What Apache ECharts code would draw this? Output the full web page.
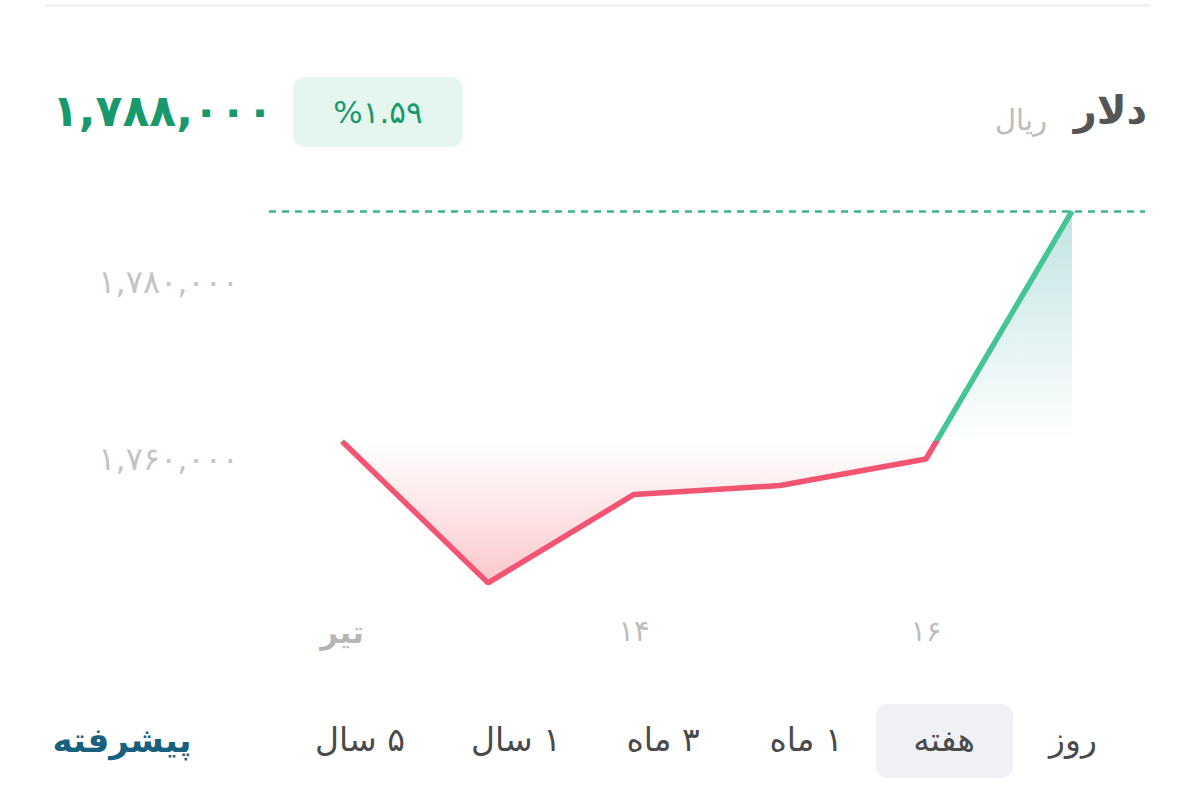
<!DOCTYPE html>
<html>
<head>
<meta charset="utf-8">
<script src="https://cdn.jsdelivr.net/npm/echarts@6/dist/echarts.min.js"></script>
<style>
  html, body { margin: 0; padding: 0; background: #ffffff; }
  #chart { width: 1200px; height: 808px; }
</style>
</head>
<body>
<div id="chart"></div>
<script>
// ---- data ----
const categories = ['تیر', '۱۳', '۱۴', '۱۵', '۱۶', '۱۷'];
const prices = [1762000, 1746000, 1756000, 1757000, 1760000, 1788000];
const yTicks = [1740000, 1760000, 1780000, 1800000];
const titleText = 'دلار';
const unitText = 'ریال';
const priceText = '۱,۷۸۸,۰۰۰';
const changeText = '%۱.۵۹';
const tabs = ['روز', 'هفته', '۱ ماه', '۳ ماه', '۱ سال', '۵ سال'];
const advancedText = 'پیشرفته';

// ---- helpers ----
const FA = '۰۱۲۳۴۵۶۷۸۹';
function toFa(n) {
  return Math.round(n).toLocaleString('en-US').replace(/[0-9]/g, d => FA[+d]);
}
const RLM = '\u200F';
const FONT = '"DejaVu Sans", "Noto Sans", sans-serif';

const baseline = prices[0];
const pMax = Math.max(...prices), pMin = Math.min(...prices);
const frac = (pMax - baseline) / (pMax - pMin);

const GREEN = '#45c495';
const RED = '#f25472';

const tabCenters = [1073, 944, 806, 663, 516, 360];

const graphics = [
  { type: 'rect', shape: { x: 45, y: 4, width: 1105, height: 3 }, style: { fill: '#f2f2f2' }, silent: true },
  { type: 'text', style: { x: 52, y: 110, text: priceText, fill: '#18996c', font: 'bold 44px ' + FONT, textAlign: 'left', textVerticalAlign: 'middle' } },
  { type: 'rect', shape: { x: 293, y: 77, width: 170, height: 70, r: 12 }, style: { fill: '#e5f6ef' } },
  { type: 'text', style: { x: 378, y: 112, text: changeText, fill: '#18996c', font: '31px ' + FONT, textAlign: 'center', textVerticalAlign: 'middle' } },
  { type: 'text', style: { x: 1147, y: 110, text: titleText, fill: '#555555', font: 'bold 40px ' + FONT, textAlign: 'right', textVerticalAlign: 'middle' } },
  { type: 'text', style: { x: 1047, y: 120, text: unitText, fill: '#bdbdbd', font: '29px ' + FONT, textAlign: 'right', textVerticalAlign: 'middle' } },
  { type: 'rect', shape: { x: 876, y: 704, width: 137, height: 74, r: 12 }, style: { fill: '#f0f1f5' } },
  { type: 'text', style: { x: 122, y: 740, text: advancedText, fill: '#17607e', font: 'bold 34px ' + FONT, textAlign: 'center', textVerticalAlign: 'middle' } }
];
tabs.forEach((t, i) => {
  graphics.push({ type: 'text', style: { x: tabCenters[i], y: 739, text: RLM + t, fill: '#4a4a4a', font: '33px ' + FONT, textAlign: 'center', textVerticalAlign: 'middle' } });
});

const chart = echarts.init(document.getElementById('chart'), null, { renderer: 'svg' });
chart.setOption({
  backgroundColor: '#ffffff',
  animation: false,
  grid: { left: 269, right: 55, top: 105, bottom: 172, containLabel: false },
  xAxis: {
    type: 'category',
    data: categories,
    boundaryGap: true,
    axisLine: { show: false },
    axisTick: { show: false },
    splitLine: { show: false },
    axisLabel: {
      interval: 1,
      margin: -20,
      color: '#bdbdbd',
      fontSize: 29,
      fontFamily: FONT,
      formatter: (v, i) => i === 0 ? '{b|' + v + '}' : v,
      rich: { b: { fontWeight: 'bold', color: '#b5b5b5', fontSize: 31, fontFamily: FONT } }
    }
  },
  yAxis: {
    type: 'value',
    min: yTicks[0],
    max: yTicks[yTicks.length - 1],
    interval: yTicks[1] - yTicks[0],
    splitLine: { show: false },
    axisLine: { show: false },
    axisTick: { show: false },
    axisLabel: {
      showMinLabel: false,
      showMaxLabel: false,
      margin: 30,
      color: '#c4c4c4',
      fontSize: 32,
      fontFamily: FONT,
      formatter: v => toFa(v)
    }
  },
  series: [
    {
      type: 'line',
      data: prices,
      symbol: 'none',
      z: 3,
      lineStyle: {
        width: 5.5,
        color: new echarts.graphic.LinearGradient(0, 0, 0, 1, [
          { offset: 0, color: GREEN },
          { offset: frac, color: GREEN },
          { offset: frac, color: RED },
          { offset: 1, color: RED }
        ])
      },
      markLine: {
        silent: true,
        symbol: 'none',
        label: { show: false },
        lineStyle: { type: [7, 6], color: '#3db38e', width: 2.5 },
        data: [{ yAxis: prices[prices.length - 1] }]
      }
    },
    {
      type: 'line',
      data: prices,
      symbol: 'none',
      lineStyle: { width: 0 },
      z: 2,
      areaStyle: {
        origin: baseline,
        color: new echarts.graphic.LinearGradient(0, 0, 0, 1, [
          { offset: 0, color: 'rgba(60,165,165,0.45)' },
          { offset: frac, color: 'rgba(60,165,165,0)' },
          { offset: frac, color: 'rgba(245,110,120,0)' },
          { offset: 1, color: 'rgba(242,95,108,0.5)' }
        ])
      }
    }
  ],
  graphic: graphics
});
</script>
</body>
</html>
